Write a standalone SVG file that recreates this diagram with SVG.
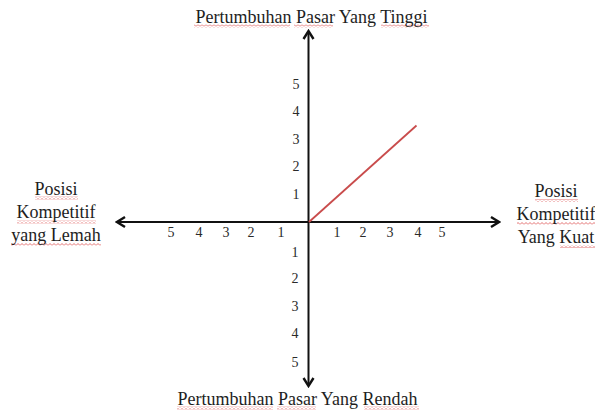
<svg xmlns="http://www.w3.org/2000/svg" width="595" height="414" viewBox="0 0 595 414">
  <style>
    .lbl { font-family: "Liberation Serif", "Times New Roman", serif; font-size: 18px; fill: #1e1e1e; }
    .num { font-family: "Liberation Serif", "Times New Roman", serif; font-size: 14px; fill: #2a2a2a; text-anchor: middle; }
    .axis { stroke: #111; stroke-width: 2; fill: none; }
    .sq { fill: url(#squig); }
  </style>
  <defs>
    <marker id="arr" markerUnits="userSpaceOnUse" viewBox="-10 -7 12 14" markerWidth="12" markerHeight="14" refX="0" refY="0" orient="auto">
      <path d="M-8,-5 L0,0 L-8,5" fill="none" stroke="#111" stroke-width="2.4"/>
    </marker>
    <pattern id="squig" patternUnits="userSpaceOnUse" x="0" y="0" width="4" height="3">
      <path d="M0,2.5 L2,0.5 L4,2.5" fill="none" stroke="#e06060" stroke-width="0.9"/>
    </pattern>
  </defs>
  <rect width="595" height="414" fill="#fff"/>

  <g id="connectors">
    <line id="axis-up" class="axis" x1="308.5" y1="222" x2="308.5" y2="31" marker-end="url(#arr)"/>
    <line id="axis-down" class="axis" x1="308.5" y1="222" x2="308.5" y2="386" marker-end="url(#arr)"/>
    <line id="axis-left" class="axis" x1="308.5" y1="222" x2="117" y2="222" marker-end="url(#arr)"/>
    <line id="axis-right" class="axis" x1="308.5" y1="222" x2="499" y2="222" marker-end="url(#arr)"/>
    <line id="red-line" x1="309" y1="222" x2="416.5" y2="125.5" stroke="#c94c4c" stroke-width="1.8"/>
  </g>

  <g id="scale">
    <text class="num" x="296" y="89">5</text>
    <text class="num" x="296" y="116">4</text>
    <text class="num" x="296" y="144">3</text>
    <text class="num" x="296" y="171">2</text>
    <text class="num" x="296" y="199">1</text>
    <text class="num" x="295" y="257">1</text>
    <text class="num" x="295" y="283">2</text>
    <text class="num" x="295" y="311">3</text>
    <text class="num" x="295" y="338">4</text>
    <text class="num" x="295" y="367">5</text>
    <text class="num" x="171" y="237">5</text>
    <text class="num" x="199" y="237">4</text>
    <text class="num" x="226" y="237">3</text>
    <text class="num" x="251" y="237">2</text>
    <text class="num" x="281" y="237">1</text>
    <text class="num" x="337" y="237">1</text>
    <text class="num" x="363" y="237">2</text>
    <text class="num" x="390" y="237">3</text>
    <text class="num" x="418" y="237">4</text>
    <text class="num" x="442" y="237">5</text>
  </g>

  <g id="top-label">
    <rect class="sq" x="194" y="24.5" width="96" height="3"/>
    <rect class="sq" x="294" y="24.5" width="39" height="3"/>
    <rect class="sq" x="381" y="24.5" width="48" height="3"/>
    <text class="lbl" x="311.5" y="23" text-anchor="middle">Pertumbuhan Pasar Yang Tinggi</text>
  </g>

  <g id="bottom-label">
    <rect class="sq" x="177" y="406.5" width="96" height="3"/>
    <rect class="sq" x="277" y="406.5" width="39" height="3"/>
    <rect class="sq" x="364" y="406.5" width="55" height="3"/>
    <text class="lbl" x="297.5" y="405" text-anchor="middle">Pertumbuhan Pasar Yang Rendah</text>
  </g>

  <g id="left-label">
    <rect class="sq" x="35" y="196.5" width="43" height="3"/>
    <rect class="sq" x="17" y="220.5" width="79" height="3"/>
    <rect class="sq" x="11" y="243" width="90" height="3"/>
    <text class="lbl" x="56" y="195" text-anchor="middle">Posisi</text>
    <text class="lbl" x="56" y="218" text-anchor="middle">Kompetitif</text>
    <text class="lbl" x="56" y="241" text-anchor="middle">yang Lemah</text>
  </g>

  <g id="right-label">
    <rect class="sq" x="535" y="199" width="43" height="3"/>
    <rect class="sq" x="517" y="222" width="79" height="3"/>
    <rect class="sq" x="560" y="245" width="36" height="3"/>
    <text class="lbl" x="556" y="197" text-anchor="middle">Posisi</text>
    <text class="lbl" x="556" y="220" text-anchor="middle">Kompetitif</text>
    <text class="lbl" x="556" y="243" text-anchor="middle">Yang Kuat</text>
  </g>
</svg>
